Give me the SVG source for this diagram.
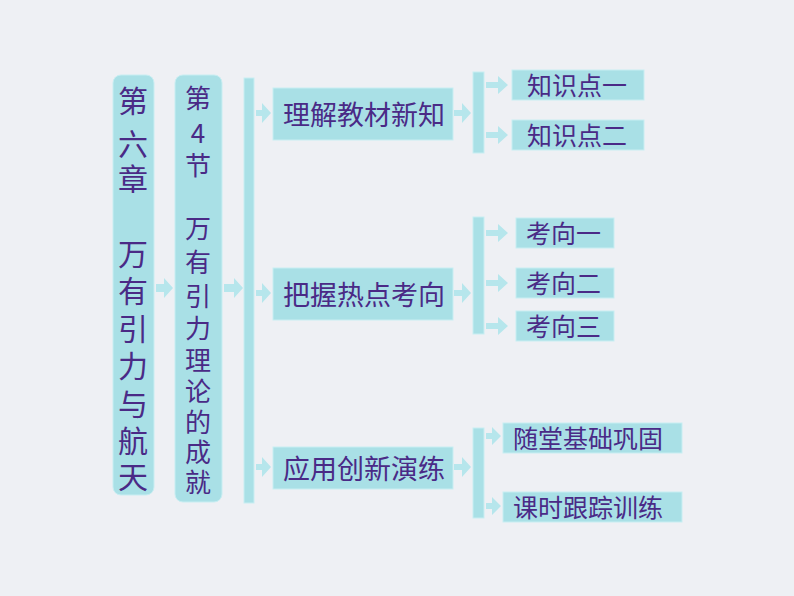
<svg xmlns="http://www.w3.org/2000/svg" width="794" height="596" viewBox="0 0 794 596">
<defs>
<style>
.b{fill:#a9e0e6;stroke:#c8eef2;stroke-width:1}
.a{fill:#b6e6ec}
text{font-family:"Noto Sans CJK SC","Liberation Serif",serif;fill:#4a2a86}
.v{font-size:30px;text-anchor:middle}
.m{font-size:27px}
.r{font-size:25px}
</style>
</defs>
<rect width="794" height="596" fill="#eef0f4"/>
<g id="connectors">
<path class="a" d="M156,284h8v-6l9,10l-9,10v-6h-8z"/>
<path class="a" d="M224,284h10v-6l9,10l-9,10v-6h-10z"/>
<path class="a" d="M256,110h6v-7l9,10l-9,10v-7h-6z"/>
<path class="a" d="M256,290h6v-7l9,10l-9,10v-7h-6z"/>
<path class="a" d="M256,464h6v-7l9,10l-9,10v-7h-6z"/>
<path class="a" d="M454,110h8v-7l9,10l-9,10v-7h-8z"/>
<path class="a" d="M454,290h8v-7l9,10l-9,10v-7h-8z"/>
<path class="a" d="M454,464h8v-7l9,10l-9,10v-7h-8z"/>
<rect class="b" x="244" y="78" width="10" height="425"/>
<rect class="b" x="473" y="72" width="11" height="81"/>
<rect class="b" x="473" y="217" width="11" height="117"/>
<rect class="b" x="473" y="428" width="11" height="90"/>
<path class="a" d="M486,82h12v-6l10,9l-10,9v-6h-12z"/>
<path class="a" d="M486,132h12v-6l10,9l-10,9v-6h-12z"/>
<path class="a" d="M486,230h12v-6l10,9l-10,9v-6h-12z"/>
<path class="a" d="M486,280h12v-6l10,9l-10,9v-6h-12z"/>
<path class="a" d="M486,323h12v-6l10,9l-10,9v-6h-12z"/>
<path class="a" d="M486,433h6v-6l9,9l-9,9v-6h-6z"/>
<path class="a" d="M486,503h6v-6l9,9l-9,9v-6h-6z"/>
</g>
<g id="chapter"><rect class="b" x="113" y="75" width="41" height="420" rx="8"/>
<text class="v"><tspan x="133" y="112">第</tspan><tspan x="133" y="155">六</tspan><tspan x="133" y="190">章</tspan><tspan x="133" y="265">万</tspan><tspan x="133" y="302">有</tspan><tspan x="133" y="340">引</tspan><tspan x="133" y="377">力</tspan><tspan x="133" y="415">与</tspan><tspan x="133" y="452">航</tspan><tspan x="133" y="488">天</tspan></text></g>
<g id="section"><rect class="b" x="175" y="75" width="47" height="427" rx="8"/>
<text class="v" style="font-size:26px"><tspan x="198" y="108">第</tspan><tspan x="198" y="143">4</tspan><tspan x="198" y="175">节</tspan><tspan x="198" y="238">万</tspan><tspan x="198" y="272">有</tspan><tspan x="198" y="306">引</tspan><tspan x="198" y="338">力</tspan><tspan x="198" y="370">理</tspan><tspan x="198" y="401">论</tspan><tspan x="198" y="432">的</tspan><tspan x="198" y="462">成</tspan><tspan x="198" y="492">就</tspan></text></g>
<g id="n1"><rect class="b" x="273" y="88" width="180" height="52"/><text class="m" x="283" y="125">理解教材新知</text></g>
<g id="n2"><rect class="b" x="273" y="268" width="180" height="52"/><text class="m" x="283" y="305">把握热点考向</text></g>
<g id="n3"><rect class="b" x="273" y="447" width="180" height="42"/><text class="m" x="283" y="479">应用创新演练</text></g>
<g id="k1"><rect class="b" x="512" y="70" width="132" height="30"/><text class="r" x="527" y="95">知识点一</text></g>
<g id="k2"><rect class="b" x="512" y="120" width="132" height="30"/><text class="r" x="527" y="145">知识点二</text></g>
<g id="x1"><rect class="b" x="516" y="218" width="98" height="30"/><text class="r" x="526" y="243">考向一</text></g>
<g id="x2"><rect class="b" x="516" y="268" width="98" height="30"/><text class="r" x="526" y="293">考向二</text></g>
<g id="x3"><rect class="b" x="516" y="311" width="98" height="30"/><text class="r" x="526" y="336">考向三</text></g>
<g id="s1"><rect class="b" x="503" y="423" width="179" height="30"/><text class="r" x="513" y="448">随堂基础巩固</text></g>
<g id="s2"><rect class="b" x="503" y="492" width="179" height="30"/><text class="r" x="513" y="517">课时跟踪训练</text></g>
</svg>
